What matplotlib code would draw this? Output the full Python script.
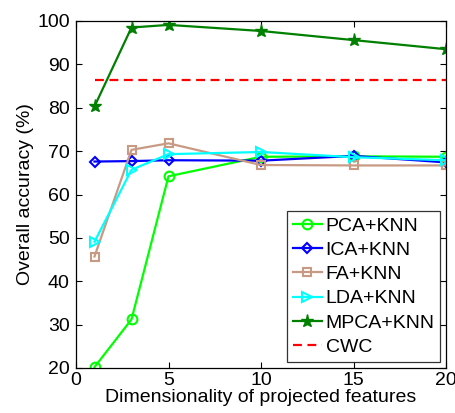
import matplotlib
matplotlib.use("Agg")
import matplotlib.pyplot as plt

plt.rcParams['font.family'] = ['Liberation Sans', 'DejaVu Sans']

x = [1, 3, 5, 10, 15, 20]
pca = [20.2, 31.2, 64.2, 68.7, 68.8, 68.7]
ica = [67.6, 67.7, 67.9, 67.8, 68.9, 67.4]
fa = [45.7, 70.3, 71.8, 66.8, 66.7, 66.7]
lda = [49.1, 65.7, 69.3, 69.8, 68.6, 67.9]
mpca = [80.3, 98.5, 99.1, 97.7, 95.6, 93.5]
cwc_x = [1, 20]
cwc = [86.3, 86.3]
labels = ['PCA+KNN', 'ICA+KNN', 'FA+KNN', 'LDA+KNN', 'MPCA+KNN', 'CWC']
xticks = [0, 5, 10, 15, 20]
yticks = [20, 30, 40, 50, 60, 70, 80, 90, 100]

fs = 14
fig = plt.figure(figsize=(4.55, 4.13), dpi=100)
ax = fig.add_axes([76/455, 45/413, 370/455, 347/413])

lw = 1.6
ax.plot(x, pca, color='#00ff00', lw=lw, marker='o', ms=7, mfc='none', mew=1.5, label=labels[0])
ax.plot(x, ica, color='#0000ff', lw=lw, marker='D', ms=5.5, mfc='none', mew=1.5, label=labels[1])
ax.plot(x, fa, color='#c89a84', lw=lw, marker='s', ms=6, mfc='none', mew=1.5, label=labels[2])
ax.plot(x, lda, color='#00ffff', lw=lw, marker='>', ms=7, mfc='none', mew=1.5, label=labels[3])
ax.plot(x, mpca, color='#008000', lw=lw, marker='*', ms=9.5, mfc='#008000', mew=1.0, label=labels[4])
ax.plot(cwc_x, cwc, color='#ff0000', lw=lw, ls=(0, (4, 2.5)), label=labels[5])

ax.set_xlim(0, 20)
ax.set_ylim(20, 100)
ax.set_xticks(xticks)
ax.set_yticks(yticks)
ax.tick_params(direction='in', top=True, right=True, labelsize=fs, length=4, width=0.8)
ax.tick_params(axis='y', pad=4.5)
ax.tick_params(axis='x', pad=3)
for s in ax.spines.values():
    s.set_linewidth(0.9)
ax.set_xlabel('Dimensionality of projected features', fontsize=fs, labelpad=0)
ax.set_ylabel('Overall accuracy (%)', fontsize=fs, labelpad=2)

leg = ax.legend(loc='lower right', bbox_to_anchor=(0.985, 0.018), fontsize=fs, frameon=True,
                fancybox=False, edgecolor='black', handlelength=1.5, handletextpad=0.2,
                labelspacing=0.34, borderpad=0.3, borderaxespad=0)
leg.get_frame().set_linewidth(0.9)

fig.savefig('out.png', dpi=100)
